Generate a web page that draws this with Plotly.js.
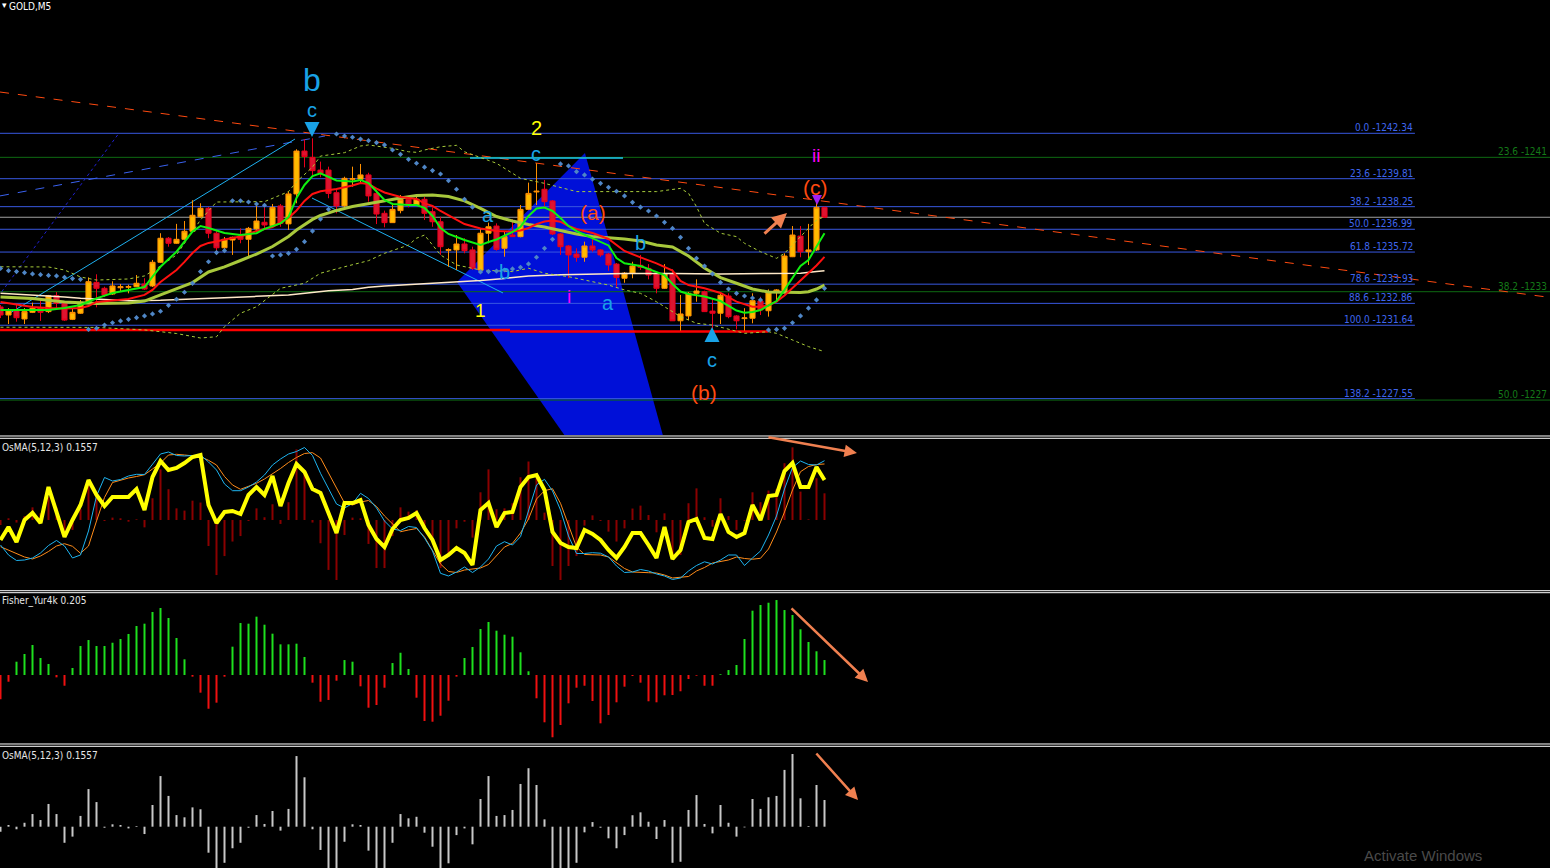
<!DOCTYPE html>
<html><head><meta charset="utf-8">
<script src="https://cdn.plot.ly/plotly-3.0.1.min.js"></script>
<style>html,body{margin:0;padding:0;background:#000;}#chart{width:1550px;height:868px;}</style>
</head><body><div id="chart"></div>
<script>
// ---------- DATA (GOLD, M5) ----------
const barIndex = Array.from({length:104},(_,i)=>i);

const open = [1232.66,1232.21,1232.49,1231.99,1232.36,1232.60,1232.40,1233.29,1232.86,1231.97,
1232.31,1232.92,1234.03,1233.70,1233.38,1233.73,1233.76,1233.79,1233.94,1233.83,
1235.15,1236.49,1236.21,1236.43,1236.88,1237.69,1238.16,1236.77,1235.96,1236.39,
1236.61,1236.43,1237.01,1237.38,1237.19,1238.29,1237.29,1238.96,1241.35,1241.00,
1240.29,1240.29,1239.03,1238.29,1239.78,1239.78,1240.02,1238.99,1237.88,1237.36,
1238.03,1238.66,1238.34,1238.66,1237.97,1237.41,1235.82,1235.84,1236.17,1235.84,
1234.72,1236.77,1237.17,1235.93,1236.67,1236.58,1238.10,1239.07,1239.22,1238.57,
1236.73,1236.06,1235.61,1235.43,1236.06,1235.84,1235.61,1235.05,1234.26,1234.54,
1234.98,1234.81,1234.54,1233.70,1234.50,1231.89,1232.16,1233.42,1233.51,1232.43,
1232.31,1233.27,1232.16,1232.01,1232.03,1232.99,1232.45,1233.51,1233.57,1235.46,
1236.61,1235.74,1235.84,1238.21];
const high = [1232.77,1232.60,1232.82,1232.60,1232.90,1233.05,1233.33,1233.49,1232.94,1232.55,
1233.05,1234.31,1234.48,1233.79,1234.09,1233.94,1233.90,1234.44,1234.26,1235.28,
1236.77,1236.56,1237.29,1237.45,1238.61,1238.44,1238.23,1236.89,1236.56,1236.58,
1237.04,1237.12,1238.40,1238.21,1238.40,1238.40,1239.09,1241.45,1242.02,1242.06,
1240.76,1240.48,1239.27,1239.92,1240.48,1240.63,1240.14,1239.18,1238.03,1238.44,
1238.90,1238.81,1238.90,1238.79,1238.21,1237.69,1235.93,1236.67,1236.49,1236.02,
1237.04,1237.36,1237.32,1236.86,1237.55,1238.34,1239.59,1240.67,1239.74,1238.62,
1236.78,1236.11,1235.93,1236.30,1236.58,1235.89,1235.67,1235.11,1234.61,1235.18,
1235.56,1235.05,1234.61,1235.05,1234.76,1233.33,1233.49,1234.20,1233.57,1233.09,
1233.42,1233.42,1232.21,1232.59,1233.42,1233.23,1233.64,1233.66,1235.65,1237.17,
1237.17,1237.29,1238.62,1238.25];
const low = [1232.04,1231.71,1231.84,1231.71,1232.32,1231.88,1232.32,1232.60,1231.88,1231.93,
1232.27,1232.88,1232.64,1233.21,1233.33,1233.51,1233.42,1233.77,1233.61,1233.77,
1235.11,1236.02,1236.17,1236.39,1236.84,1237.62,1236.49,1235.74,1235.72,1235.56,
1236.21,1235.50,1236.95,1236.95,1237.17,1237.13,1236.95,1238.44,1240.44,1239.92,
1239.89,1238.72,1237.88,1238.21,1239.36,1239.55,1238.53,1237.28,1237.10,1237.34,
1237.88,1238.21,1238.29,1237.51,1237.13,1235.56,1234.90,1234.72,1235.65,1234.72,
1234.66,1236.21,1235.80,1235.46,1236.56,1236.54,1238.06,1238.34,1238.25,1236.67,
1235.56,1234.26,1235.18,1235.18,1235.74,1235.46,1234.68,1233.79,1234.01,1234.26,
1234.72,1234.20,1233.42,1233.66,1231.88,1231.34,1231.93,1232.95,1232.38,1231.34,
1231.71,1232.03,1231.41,1231.34,1231.75,1232.21,1232.12,1232.95,1233.55,1235.44,
1235.43,1235.00,1235.78,1237.62];
const close = [1232.21,1232.49,1232.06,1232.40,1232.59,1232.36,1233.29,1232.86,1231.93,1232.36,
1232.92,1234.07,1233.70,1233.33,1233.83,1233.79,1233.79,1233.98,1233.66,1235.15,
1236.49,1236.21,1236.43,1236.88,1237.77,1238.16,1236.77,1235.96,1236.43,1236.54,
1236.43,1237.04,1237.45,1237.23,1238.21,1237.32,1238.96,1241.35,1241.04,1240.26,
1240.11,1238.99,1238.29,1239.83,1239.81,1240.02,1238.85,1237.84,1237.36,1238.10,
1238.66,1238.34,1238.66,1237.88,1237.41,1236.02,1235.85,1236.17,1235.80,1234.81,
1236.77,1237.13,1235.87,1236.58,1236.58,1238.10,1238.99,1239.11,1238.53,1236.73,
1236.02,1235.56,1235.43,1236.06,1235.84,1235.56,1235.00,1234.31,1234.54,1234.94,
1234.87,1234.44,1233.70,1234.50,1231.89,1232.27,1233.42,1233.55,1232.40,1232.31,
1233.31,1232.12,1231.89,1232.05,1233.01,1232.49,1233.51,1233.61,1235.50,1236.67,
1235.74,1235.84,1238.21,1237.66];

// fast MA (green)
const maFastIdx = [0,2,4,6,8,10,11,12,14,16,18,19,20,22,24,25,26,28,30,32,33,35,36,37,38,39,40,42,44,45,46,48,49,51,52,53,54,55,56,58,60,61,62,64,65,66,67,68,69,70,71,72,74,76,77,78,80,82,83,84,85,86,88,90,91,92,93,94,95,96,97,98,99,100,101,102,103];
const maFast = [1232.49,1232.49,1232.46,1232.49,1232.60,1232.77,1232.95,1233.14,1233.44,1233.61,1233.77,1234.35,1234.90,1235.74,1236.86,1237.17,1237.06,1236.78,1236.67,1236.77,1237.01,1237.32,1237.67,1238.73,1239.46,1239.96,1240.11,1239.71,1239.65,1239.74,1239.57,1238.62,1238.40,1238.34,1238.34,1238.18,1237.73,1237.06,1236.73,1236.39,1236.11,1236.28,1236.42,1236.84,1237.13,1237.73,1238.15,1238.20,1238.01,1237.62,1237.17,1236.89,1236.50,1236.09,1235.39,1235.09,1234.94,1234.61,1234.44,1233.94,1233.52,1233.38,1233.24,1232.99,1232.71,1232.46,1232.34,1232.38,1232.49,1232.74,1232.99,1233.61,1234.27,1234.94,1235.28,1236.00,1236.77];
// medium MA (red)
const maMidIdx = [0,2,4,6,8,10,11,12,14,16,18,19,20,21,22,23,24,25,26,27,28,30,32,34,35,36,37,38,39,40,42,44,45,46,47,48,50,52,53,54,55,56,58,60,62,64,65,66,67,68,69,70,71,72,74,76,77,78,80,82,84,85,86,88,90,92,94,95,96,97,98,99,100,101,102,103];
const maMid = [1232.94,1232.80,1232.66,1232.60,1232.57,1232.60,1232.71,1232.94,1233.02,1233.10,1233.33,1233.61,1234.05,1234.39,1234.72,1235.17,1235.67,1236.06,1236.23,1236.31,1236.42,1236.59,1236.89,1237.12,1237.37,1237.62,1238.04,1238.57,1238.96,1239.11,1239.24,1239.43,1239.57,1239.51,1239.26,1239.04,1238.79,1238.68,1238.43,1238.29,1238.01,1237.76,1237.28,1237.03,1236.89,1236.86,1236.92,1237.06,1237.28,1237.42,1237.48,1237.41,1237.17,1237.01,1236.78,1236.45,1236.11,1235.78,1235.42,1235.09,1234.69,1234.11,1233.88,1233.70,1233.44,1232.96,1232.67,1232.67,1232.74,1232.96,1233.30,1233.72,1234.14,1234.54,1234.97,1235.45];
// slow MA (yellow-green)
const maSlowIdx = [0,4,8,12,16,18,20,22,24,26,28,30,32,34,36,37,38,39,40,42,44,46,48,50,52,54,56,58,60,62,64,66,68,70,72,74,76,78,80,82,84,85,86,88,90,92,94,96,98,100,101,102,103];
const maSlow = [1233.22,1233.13,1232.94,1232.85,1232.88,1232.99,1233.33,1233.69,1234.02,1234.61,1234.89,1235.25,1235.61,1236.03,1236.59,1236.95,1237.26,1237.54,1237.76,1238.04,1238.26,1238.43,1238.57,1238.73,1238.87,1238.90,1238.82,1238.57,1238.15,1237.70,1237.45,1237.26,1237.12,1236.92,1236.73,1236.59,1236.53,1236.45,1236.34,1236.11,1236.00,1235.75,1235.50,1234.83,1234.30,1233.98,1233.66,1233.49,1233.46,1233.47,1233.51,1233.66,1233.88];
// very slow MA (beige)
const maLongIdx = [0,4,8,10,16,20,24,28,32,36,38,41,44,46,48,50,52,54,56,60,63,66,70,74,78,84,90,96,100,102,103];
const maLong = [1233.42,1233.33,1233.22,1233.14,1233.01,1233.04,1233.10,1233.19,1233.25,1233.33,1233.42,1233.57,1233.64,1233.76,1233.83,1233.88,1233.91,1233.98,1234.03,1234.14,1234.25,1234.39,1234.46,1234.50,1234.53,1234.53,1234.50,1234.53,1234.54,1234.63,1234.68];
// envelope bands (dotted)
const bandUpIdx = [0,6,8,10,12,16,18,20,22,25,27,29,33,35,36,37,39,40,43,45,46,49,51,52,53,55,57,58,62,65,68,72,74,77,82,85,86,87,88,90,92,93,95,97,98,100,102,103];
const bandUp = [1234.90,1234.89,1234.72,1234.33,1234.16,1234.22,1234.39,1234.94,1235.56,1237.51,1238.51,1238.53,1238.53,1238.90,1239.09,1239.63,1240.46,1241.07,1241.26,1241.63,1241.69,1241.50,1241.31,1241.28,1241.41,1241.59,1241.67,1241.31,1240.67,1239.83,1239.55,1239.09,1239.09,1239.09,1239.09,1239.27,1239.00,1238.25,1237.32,1236.77,1236.58,1236.21,1235.74,1235.37,1235.65,1236.58,1237.51,1237.69];
const bandLoIdx = [0,12,18,22,25,27,28,30,32,35,38,40,43,46,48,51,52,53,55,57,60,64,66,68,71,73,76,78,80,82,85,87,89,93,96,97,99,101,103];
const bandLo = [1231.53,1231.52,1231.38,1231.18,1230.93,1231.00,1231.56,1232.31,1232.67,1233.70,1233.98,1234.54,1234.90,1235.24,1235.65,1236.11,1236.49,1236.67,1235.56,1235.00,1234.72,1234.63,1234.82,1234.54,1234.35,1234.16,1233.88,1233.61,1233.42,1232.95,1232.12,1231.75,1231.65,1231.19,1231.28,1231.19,1230.82,1230.45,1230.17];
// parabolic SAR dots
const sar = [1234.81,1234.68,1234.63,1234.57,1234.50,1234.46,1234.42,1234.39,1234.31,1234.24,
1234.20,1231.41,1231.47,1231.65,1231.78,1231.88,1231.97,1232.06,1232.16,1232.27,
1232.42,1232.75,1233.09,1233.48,1233.98,1234.63,1235.18,1235.69,1235.80,1238.58,
1238.58,1238.51,1238.40,1238.33,1235.50,1235.56,1235.65,1235.87,1236.30,1236.89,
1237.56,1238.10,1242.30,1242.19,1242.12,1242.02,1241.93,1241.82,1241.69,1241.41,
1241.17,1240.89,1240.67,1240.45,1240.26,1240.07,1239.70,1239.22,1238.66,1238.22,
1234.61,1234.63,1234.66,1234.72,1234.78,1234.87,1235.06,1235.43,1235.93,1236.43,
1240.63,1240.52,1240.20,1240.02,1239.78,1239.55,1239.33,1239.11,1238.85,1238.49,
1238.22,1238.01,1237.73,1237.38,1237.04,1236.54,1235.93,1235.37,1234.94,1234.50,
1234.03,1233.66,1233.42,1233.27,1233.16,1233.05,1231.38,1231.41,1231.47,1231.78,
1232.16,1232.59,1233.05,1233.70];

// Fibonacci levels
const fibPct = ['0.0','23.6','38.2','50.0','61.8','78.6','88.6','100.0','138.2'];
const fibPrice = [1242.34,1239.81,1238.25,1236.99,1235.72,1233.93,1232.86,1231.64,1227.55];
const fib2Pct = ['23.6','38.2','50.0'];
const fib2Price = [1241.00,1233.51,1227.47];
const fib2Text = ['1241','1233','1227'];
const bidPrice = 1237.66;

// OsMA(5,12,3)
const osma = [-0.029,0.010,-0.015,0.023,0.074,0.039,0.133,0.074,-0.094,-0.058,
0.063,0.220,0.144,-0.006,0.014,0.010,-0.010,0.004,-0.043,0.127,
0.296,0.180,0.068,0.055,0.113,0.102,-0.152,-0.322,-0.211,-0.126,
-0.094,-0.006,0.068,0.016,0.092,-0.023,0.104,0.413,0.289,-0.015,
-0.136,-0.292,-0.351,-0.088,0.014,0.010,-0.140,-0.281,-0.281,-0.094,
0.074,0.049,0.058,-0.035,-0.117,-0.281,-0.214,-0.049,-0.010,-0.103,
0.162,0.296,0.063,0.068,0.098,0.250,0.342,0.244,0.043,-0.269,
-0.351,-0.269,-0.211,-0.033,0.027,-0.006,-0.068,-0.126,-0.049,0.067,
0.084,0.029,-0.072,0.039,-0.211,-0.205,0.098,0.185,0.016,-0.039,
0.127,0.023,-0.058,-0.004,0.162,0.104,0.172,0.180,0.332,0.425,
0.166,0.004,0.244,0.156];
// oscillator lines in the first sub-window
const oscMain = [-0.20,-0.07,-0.22,0.00,0.07,-0.03,0.33,0.08,-0.17,0.00,
0.15,0.40,0.25,0.14,0.23,0.23,0.23,0.31,0.10,0.43,
0.59,0.50,0.52,0.57,0.63,0.65,0.15,-0.03,0.08,0.09,
0.06,0.25,0.33,0.25,0.44,0.14,0.37,0.56,0.48,0.31,
0.27,0.07,-0.13,0.17,0.17,0.20,-0.05,-0.19,-0.27,-0.09,
0.00,0.02,0.07,-0.08,-0.20,-0.40,-0.35,-0.28,-0.33,-0.45,
0.10,0.17,-0.07,0.07,0.08,0.33,0.43,0.45,0.30,-0.12,
-0.23,-0.27,-0.28,-0.10,-0.14,-0.20,-0.30,-0.38,-0.27,-0.13,
-0.13,-0.25,-0.38,-0.07,-0.39,-0.30,-0.02,0.01,-0.18,-0.19,
0.06,-0.12,-0.17,-0.13,0.15,0.00,0.24,0.25,0.49,0.57,
0.33,0.33,0.53,0.40];
const oscFast = [-0.25,-0.35,-0.405,-0.40,-0.38,-0.33,-0.255,-0.205,-0.26,-0.38,
-0.35,-0.11,0.24,0.425,0.39,0.405,0.44,0.457,0.455,0.56,
0.66,0.68,0.645,0.64,0.645,0.65,0.58,0.50,0.36,0.293,
0.293,0.33,0.38,0.45,0.55,0.61,0.66,0.685,0.725,0.645,
0.467,0.31,0.16,0.12,0.165,0.267,0.215,0.12,-0.01,-0.09,
-0.105,-0.065,-0.075,-0.18,-0.31,-0.533,-0.56,-0.52,-0.47,-0.525,
-0.47,-0.39,-0.26,-0.217,-0.25,-0.167,0.10,0.35,0.407,0.29,
0.10,-0.16,-0.335,-0.335,-0.327,-0.332,-0.37,-0.46,-0.525,-0.52,
-0.495,-0.51,-0.54,-0.56,-0.595,-0.58,-0.51,-0.455,-0.418,-0.44,
-0.40,-0.35,-0.35,-0.455,-0.38,-0.31,-0.15,0.04,0.31,0.525,
0.59,0.555,0.55,0.593];
const oscSlow = [-0.267,-0.30,-0.34,-0.37,-0.39,-0.36,-0.315,-0.26,-0.237,-0.263,
-0.333,-0.26,-0.01,0.225,0.375,0.40,0.42,0.435,0.453,0.51,
0.57,0.65,0.657,0.65,0.643,0.633,0.597,0.55,0.435,0.35,
0.307,0.34,0.367,0.41,0.46,0.515,0.575,0.625,0.665,0.673,
0.62,0.475,0.315,0.17,0.15,0.18,0.195,0.135,0.04,-0.04,
-0.117,-0.10,-0.085,-0.17,-0.31,-0.44,-0.515,-0.525,-0.50,-0.487,
-0.48,-0.445,-0.355,-0.27,-0.233,-0.13,0.01,0.21,0.293,0.313,
0.167,-0.05,-0.27,-0.345,-0.35,-0.35,-0.37,-0.43,-0.485,-0.52,
-0.527,-0.527,-0.53,-0.55,-0.58,-0.575,-0.565,-0.51,-0.475,-0.43,
-0.415,-0.40,-0.37,-0.385,-0.392,-0.383,-0.29,-0.12,0.08,0.30,
0.483,0.535,0.555,0.56];
// Fisher_Yur4k
const fisher = [-0.333,-0.092,0.182,0.288,0.411,0.233,0.151,-0.032,-0.147,0.096,
0.397,0.479,0.397,0.397,0.442,0.493,0.562,0.671,0.703,0.863,
0.918,0.781,0.507,0.215,-0.023,-0.242,-0.462,-0.379,-0.023,0.388,
0.712,0.703,0.799,0.689,0.566,0.420,0.420,0.429,0.247,-0.105,
-0.366,-0.342,-0.078,0.205,0.182,-0.155,-0.448,-0.411,-0.174,0.164,
0.305,0.082,-0.311,-0.630,-0.640,-0.558,-0.352,-0.023,0.233,0.384,
0.630,0.726,0.607,0.552,0.525,0.311,0.051,-0.319,-0.648,-0.853,
-0.685,-0.388,-0.174,-0.147,-0.356,-0.662,-0.548,-0.374,-0.160,-0.014,
-0.105,-0.360,-0.374,-0.278,-0.274,-0.223,-0.055,-0.010,-0.147,-0.147,
0.010,0.068,0.137,0.493,0.881,0.959,0.990,1.027,0.890,0.822,
0.626,0.452,0.325,0.205];

// ---------- CHART ----------
const F = 'Liberation Sans, Arial, sans-serif';
const FN = 'Liberation Sans Narrow, DejaVu Sans Condensed, Liberation Sans, sans-serif';
const X0 = -0.0625, X1 = 193.6875;

const traces = [
  {type:'scatter', mode:'lines', x:maLongIdx, y:maLong, xaxis:'x', yaxis:'y', line:{color:'#FFE9C8',width:1.5}},
  {type:'candlestick', x:barIndex, open:open, high:high, low:low, close:close,
   xaxis:'x', yaxis:'y', whiskerwidth:0, hoverinfo:'skip',
   increasing:{line:{color:'#FF9000',width:1}, fillcolor:'#FFBA00'},
   decreasing:{line:{color:'#E8001C',width:1}, fillcolor:'#DC1430'}},
  {type:'scatter', mode:'lines', x:bandUpIdx, y:bandUp, xaxis:'x', yaxis:'y', line:{color:'#A8CC3A',width:1,dash:'dot'}},
  {type:'scatter', mode:'lines', x:bandLoIdx, y:bandLo, xaxis:'x', yaxis:'y', line:{color:'#A8CC3A',width:1,dash:'dot'}},
  {type:'scatter', mode:'lines', x:maSlowIdx, y:maSlow, xaxis:'x', yaxis:'y', line:{color:'#A8C83C',width:3}},
  {type:'scatter', mode:'lines', x:maMidIdx, y:maMid, xaxis:'x', yaxis:'y', line:{color:'#FF1010',width:2}},
  {type:'scatter', mode:'lines', x:maFastIdx, y:maFast, xaxis:'x', yaxis:'y', line:{color:'#10F010',width:2}},
  {type:'scatter', mode:'markers', x:barIndex, y:sar, xaxis:'x', yaxis:'y', marker:{symbol:'diamond',size:4,color:'#4F86C6'}},
  // sub-window 1
  {type:'bar', x:barIndex, y:osma, xaxis:'x', yaxis:'y2', width:0.25, marker:{color:'#8B0000',line:{width:0}}},
  {type:'scatter', mode:'lines', x:barIndex, y:oscSlow, xaxis:'x', yaxis:'y3', line:{color:'#FF8C1A',width:1}},
  {type:'scatter', mode:'lines', x:barIndex, y:oscFast, xaxis:'x', yaxis:'y3', line:{color:'#1EB4F0',width:1}},
  {type:'scatter', mode:'lines', x:barIndex, y:oscMain, xaxis:'x', yaxis:'y3', line:{color:'#FFFF00',width:4}},
  // Fisher
  {type:'bar', x:barIndex, y:fisher, xaxis:'x', yaxis:'y4', width:0.25,
   marker:{color:fisher.map(v=>v>=0?'#1EE01E':'#F01010'),line:{width:0}}},
  // OsMA grey
  {type:'bar', x:barIndex, y:osma, xaxis:'x', yaxis:'y5', width:0.25, marker:{color:'#C8C8C8',line:{width:0}}}
];
traces.forEach(t=>{t.showlegend=false; t.hoverinfo='skip';});

const shapes = [];
// blue wedge
shapes.push({type:'path', xref:'x', yref:'y', layer:'below', line:{width:0}, fillcolor:'#0010D8',
  path:'M 73.06,1241.24 L 57.06,1234.05 L 71.35,1224.97 L 83.13,1224.97 Z'});
fibPrice.forEach(p=>shapes.push({type:'line', xref:'x', yref:'y', layer:'below', x0:X0, x1:176.8, y0:p, y1:p, line:{color:'#3858E0',width:1}}));
fib2Price.forEach(p=>shapes.push({type:'line', xref:'x', yref:'y', layer:'below', x0:X0, x1:X1, y0:p, y1:p, line:{color:'#0E6A12',width:1}}));
shapes.push({type:'line', xref:'x', yref:'y', layer:'below', x0:X0, x1:X1, y0:bidPrice, y1:bidPrice, line:{color:'#A0A0A0',width:1}});
// trend lines & drawings
const L = (x0,y0,x1,y1,color,width,dash)=>shapes.push({type:'line',xref:'x',yref:'y',layer:'below',x0,y0,x1,y1,line:{color,width,dash:dash||'solid'}});
L(-0.06,1244.64,193.69,1233.19,'#FF4A10',1,'dash');
L(0.15,1233.51,14.73,1242.30,'#2020D0',1,'dot');
L(-0.06,1238.85,40.56,1242.19,'#3A62F0',1,'dash');
L(1.19,1232.32,36.81,1242.02,'#1EB0F0',1);
L(38.94,1238.73,62.81,1233.44,'#1EB0F0',1);
L(58.69,1240.96,77.81,1240.96,'#1EC8F0',1.5);
L(-0.06,1231.38,63.69,1231.38,'#FF0000',2.5);
L(63.69,1231.29,95.94,1231.29,'#FF0000',2.5);
// window separators
[0.4977,0.49505,0.31947,0.31717,0.14286,0.14021].forEach(y=>shapes.push({type:'line',xref:'paper',yref:'paper',x0:0,x1:1,y0:y,y1:y,line:{color:'#FFFFFF',width:1},layer:'above'}));

const annotations = [];
const T = (x,y,text,color,size,extra)=>annotations.push(Object.assign({xref:'x',yref:'y',x,y,text,showarrow:false,
  font:{family:F,size,color},xanchor:'center',yanchor:'middle'},extra||{}));
fibPrice.forEach((p,i)=>T(176.8,p,fibPct[i]+' -'+p.toFixed(2),'#3F66EE',10,{font:{family:FN,size:10,color:'#3F66EE'},xanchor:'right',yanchor:'bottom',yshift:-2}));
fib2Price.forEach((p,i)=>T(X1-0.1,p,fib2Pct[i]+' -'+fib2Text[i],'#147A18',10,{font:{family:FN,size:10,color:'#147A18'},xanchor:'right',yanchor:'bottom',yshift:-2}));
// wave labels
T(38.94,1245.31,'b','#19A2E6',32);
T(38.94,1243.64,'c','#19A2E6',20);
T(66.94,1242.64,'2','#FFFF00',20);
T(66.94,1241.19,'c','#19A2E6',20);
T(60.94,1237.76,'a','#19A2E6',20);
T(63.06,1234.61,'b','#19A2E6',20);
T(59.94,1232.49,'1','#FFFF00',19);
T(71.06,1233.27,'i','#FF00FF',19);
T(75.94,1232.88,'a','#19A2E6',20);
T(80.06,1236.20,'b','#19A2E6',20);
T(74.0,1237.95,'(a)','#FF4A10',21);
T(87.94,1227.89,'(b)','#FF4A10',21);
T(88.94,1229.73,'c','#19A2E6',20);
T(101.94,1241.10,'ii','#FF00FF',19);
T(101.88,1239.32,'(c)','#FF4A10',21);
// arrows
const A = (x,y,ax,ay,color,w,yref)=>annotations.push({xref:'x',yref:yref||'y',x,y,ax,ay,axref:'pixel',ayref:'pixel',text:'',showarrow:true,arrowhead:2,arrowsize:1,arrowwidth:w,arrowcolor:color});
A(38.94,1242.13,0,-13,'#19A2E6',3);
A(88.94,1231.54,0,13,'#19A2E6',3);
A(102.06,1238.34,0,-9,'#A020F0',2);
A(98.31,1237.90,-24,22,'#F08050',3);
A(107.06,0.67,-90,-16,'#F08050',2.5,'y3');
A(108.44,-0.096,-78,-75,'#F08050',2.5,'y4');
A(107.19,0.156,-43,-48,'#F08050',2.5,'y5');
// window captions
const P = (x,y,text,size,color)=>annotations.push({xref:'paper',yref:'paper',x,y,text,showarrow:false,xanchor:'left',yanchor:'middle',font:{family:FN,size,color}});
P(0.0045,1-6/868,'GOLD,M5',10,'#FFFFFF');
P(0,1-447/868,'OsMA(5,12,3) 0.1557',10,'#E6E6E6');
P(0,1-601/868,'Fisher_Yur4k 0.205',10,'#E6E6E6');
P(0,1-755/868,'OsMA(5,12,3) 0.1557',10,'#E6E6E6');
annotations.push({xref:'paper',yref:'paper',x:1362/1550,y:1-866/868,text:'Activate Windows',showarrow:false,xanchor:'left',yanchor:'bottom',font:{family:F,size:15,color:'#4A4A4A'}});
annotations.push({xref:'paper',yref:'paper',x:0,y:1-5/868,text:'▾',showarrow:false,xanchor:'left',yanchor:'middle',font:{family:F,size:9,color:'#FFFFFF'}});

const layout = {
  width:1550, height:868, margin:{l:0,r:0,t:0,b:0,pad:0},
  paper_bgcolor:'#000000', plot_bgcolor:'#000000', showlegend:false, hovermode:false, barmode:'overlay',
  boxmode:'overlay', boxgap:0.2, boxgroupgap:0.2,
  xaxis:{domain:[0,1], range:[X0,X1], visible:false, rangeslider:{visible:false}, fixedrange:true},
  yaxis:{domain:[0.49885,1], range:[1225.523,1249.77], visible:false, fixedrange:true},
  yaxis2:{domain:[0.32028,0.49309], range:[-0.4094,0.4678], visible:false, fixedrange:true},
  yaxis3:{overlaying:'y2', range:[-0.70,0.80], visible:false, fixedrange:true},
  yaxis4:{domain:[0.14286,0.31567], range:[-0.9452,1.1096], visible:false, fixedrange:true},
  yaxis5:{domain:[0,0.13825], range:[-0.2415,0.4602], visible:false, fixedrange:true},
  shapes:shapes, annotations:annotations
};
Plotly.newPlot('chart', traces, layout, {staticPlot:true, displayModeBar:false});
</script>
</body></html>
